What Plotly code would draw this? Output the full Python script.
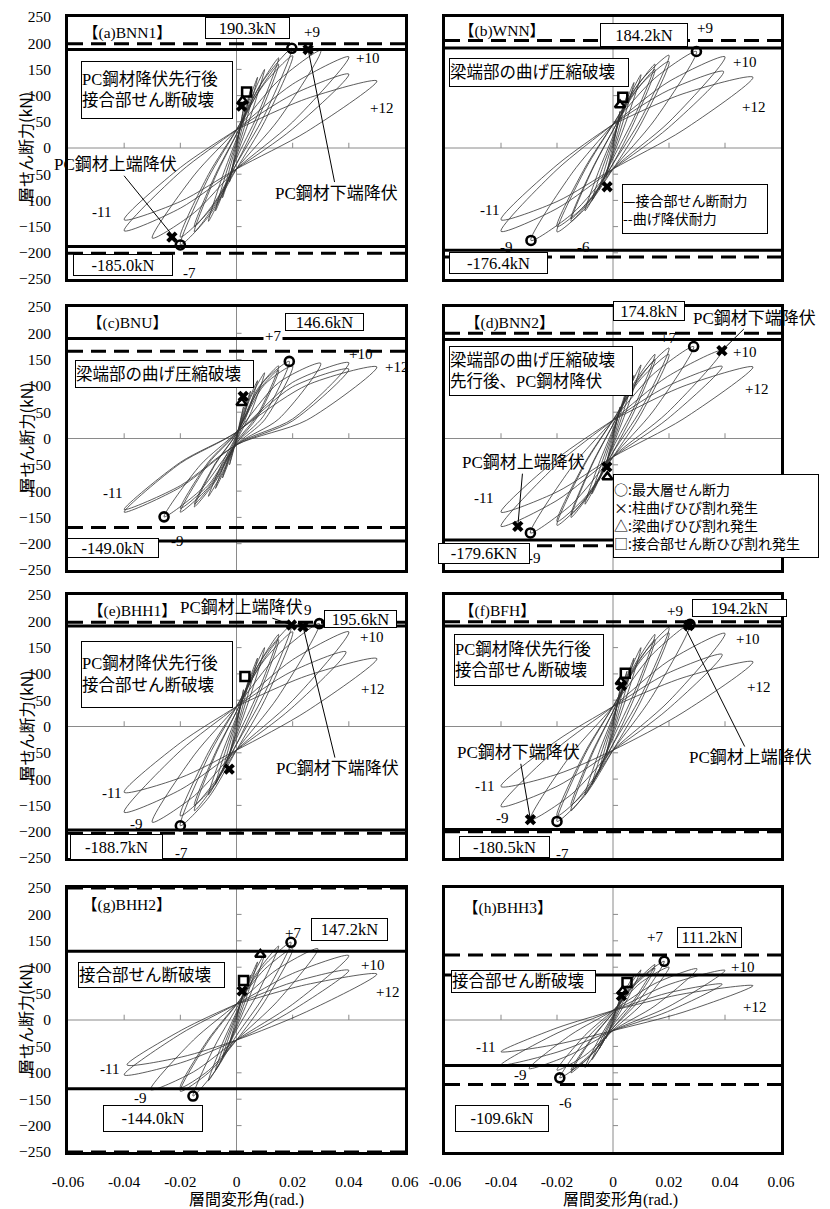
import plotly.graph_objects as go

SERIF = "Liberation Serif, Noto Sans CJK JP, serif"
GOTHIC = "Noto Sans CJK JP, Noto Sans, sans-serif"

# ---------------------------------------------------------------- axes
X_TICKS = [-0.06, -0.04, -0.02, 0, 0.02, 0.04, 0.06]
X_TICK_TEXT = ["-0.06", "-0.04", "-0.02", "0", "0.02", "0.04", "0.06"]
Y_TICKS = [250, 200, 150, 100, 50, 0, -50, -100, -150, -200, -250]
X_MINOR = [-0.04, -0.02, 0.02, 0.04]
Y_MINOR = [200, 150, 100, 50, -50, -100, -150, -200]

SPECIMENS = ["【(a)BNN1】", "【(b)WNN】", "【(c)BNU】", "【(d)BNN2】",
             "【(e)BHH1】", "【(f)BFH】", "【(g)BHH2】", "【(h)BHH3】"]

# ---------------------------------------------------------------- hysteresis
# each cycle: (+ peak drift, + peak shear, - peak drift, - peak shear)
CYCLES_A = [(0.0025, 75, -0.0025, -65), (0.005, 110, -0.005, -95),
            (0.0075, 135, -0.0075, -120), (0.01, 150, -0.01, -140),
            (0.015, 172, -0.015, -160), (0.015, 160, -0.015, -150),
            (0.0197, 190.3, -0.020, -185.0), (0.02, 176, -0.02, -170),
            (0.03, 186, -0.030, -172), (0.04, 174, -0.04, -158),
            (0.04, 141, -0.04, -137)]
CYCLES_B = [(0.0025, 70, -0.0025, -55), (0.005, 100, -0.005, -80),
            (0.0075, 125, -0.0075, -100), (0.01, 140, -0.01, -120),
            (0.015, 160, -0.015, -140), (0.015, 150, -0.015, -135),
            (0.02, 177, -0.02, -160), (0.02, 165, -0.02, -150),
            (0.0298, 184.2, -0.0293, -176.4), (0.04, 174, -0.04, -159),
            (0.0395, 146, -0.04, -137)]
CYCLES_C = [(0.0025, 60, -0.0025, -50), (0.005, 90, -0.005, -75),
            (0.0075, 110, -0.0075, -95), (0.01, 125, -0.01, -110),
            (0.015, 138, -0.015, -130), (0.015, 130, -0.015, -125),
            (0.0188, 146.6, -0.02, -140), (0.02, 138, -0.02, -133),
            (0.03, 143, -0.0258, -149.0), (0.04, 144, -0.04, -140),
            (0.04, 132, -0.04, -135)]
CYCLES_D = [(0.0025, 60, -0.0025, -50), (0.005, 95, -0.005, -80),
            (0.0075, 120, -0.0075, -105), (0.01, 140, -0.01, -125),
            (0.015, 160, -0.015, -150), (0.015, 150, -0.015, -145),
            (0.02, 172, -0.02, -165), (0.02, 160, -0.02, -158),
            (0.0288, 174.8, -0.0295, -179.6), (0.0389, 167, -0.04, -167),
            (0.039, 137, -0.04, -140)]
CYCLES_E = [(0.0025, 70, -0.0025, -55), (0.005, 100, -0.005, -85),
            (0.0075, 130, -0.0075, -110), (0.01, 150, -0.01, -130),
            (0.015, 175, -0.015, -160), (0.015, 165, -0.015, -150),
            (0.0196, 193, -0.020, -188.7), (0.02, 180, -0.02, -170),
            (0.0295, 195.6, -0.030, -182), (0.04, 180, -0.04, -163),
            (0.039, 142, -0.04, -125)]
CYCLES_F = [(0.0025, 70, -0.0025, -55), (0.005, 105, -0.005, -85),
            (0.0075, 130, -0.0075, -110), (0.01, 150, -0.01, -130),
            (0.015, 175, -0.015, -160), (0.015, 165, -0.015, -150),
            (0.02, 188, -0.020, -180.5), (0.02, 178, -0.02, -170),
            (0.0275, 194.2, -0.0295, -177), (0.04, 177, -0.04, -152),
            (0.039, 137, -0.04, -114)]
CYCLES_G = [(0.0025, 55, -0.0025, -45), (0.005, 85, -0.005, -70),
            (0.0075, 110, -0.0075, -95), (0.01, 125, -0.01, -115),
            (0.015, 140, -0.0155, -144.0), (0.0194, 147.2, -0.02, -135),
            (0.02, 135, -0.02, -128), (0.029, 135, -0.0306, -132),
            (0.04, 122, -0.04, -104), (0.04, 94, -0.039, -85)]
CYCLES_H = [(0.0025, 40, -0.0025, -35), (0.005, 65, -0.005, -55),
            (0.0075, 85, -0.0075, -75), (0.01, 95, -0.01, -90),
            (0.015, 105, -0.015, -100), (0.015, 98, -0.015, -95),
            (0.0183, 111.2, -0.019, -109.6), (0.02, 100, -0.02, -95),
            (0.03, 97, -0.03, -92), (0.04, 94, -0.04, -85),
            (0.039, 68, -0.04, -60)]
ALL_CYCLES = [CYCLES_A, CYCLES_B, CYCLES_C, CYCLES_D,
              CYCLES_E, CYCLES_F, CYCLES_G, CYCLES_H]

# last positive excursion (+12)
FINAL_DRIFT = [0.05, 0.05, 0.05, 0.05, 0.05, 0.05, 0.05, 0.05]
FINAL_SHEAR = [128, 135, 136, 136, 129, 123, 87, 65]

# shear remaining at zero drift in the pinched region
PINCH_UNLOAD = [35, 45, 12, 35, 38, 38, 30, 18]
PINCH_RELOAD = [40, 40, 12, 35, 45, 45, 38, 20]

# ---------------------------------------------------------------- strengths
SHEAR_CAP_POS = [188, 191, 190, 188, 191, 191, 130, 85]
SHEAR_CAP_NEG = [-188, -195, -195, -193, -197, -196, -130, -86]
FLEX_CAP_POS = [199, 205, 166, 200, 198, 199, 250, 123]
FLEX_CAP_NEG = [-201, -208, -169, -204, -203, -200, -250, -122]

# maximum story shear (drift, shear) in each direction
MAX_POS_DRIFT = [0.0197, 0.0298, 0.0188, 0.0288, 0.0295, 0.0275, 0.0194, 0.0183]
MAX_POS_SHEAR = [190.3, 184.2, 146.6, 174.8, 195.6, 194.2, 147.2, 111.2]
MAX_NEG_DRIFT = [-0.020, -0.0293, -0.0258, -0.0295, -0.020, -0.020, -0.0155, -0.019]
MAX_NEG_SHEAR = [-185.0, -176.4, -149.0, -179.6, -188.7, -180.5, -144.0, -109.6]
NEG_UNIT = ["kN", "kN", "kN", "KN", "kN", "kN", "kN", "kN"]

# crack / yield events
CROSS_PTS = [[(0.0255, 188), (0.0018, 80), (-0.023, -170)],
             [(-0.0021, -74)],
             [(0.0024, 80)],
             [(0.0389, 167), (-0.034, -167), (-0.0022, -54)],
             [(0.0196, 193), (0.0237, 190), (-0.0026, -81)],
             [(0.027, 192), (-0.0295, -177), (0.003, 78)],
             [(0.002, 55)],
             [(0.003, 46)]]
TRI_PTS = [[(0.0022, 90)], [(0.0025, 82)], [(0.0018, 68)], [(-0.002, -73)],
           [], [(0.0028, 85)], [(0.0085, 124)], [(0.0035, 55)]]
SQUARE_PTS = [[(0.0036, 107)], [(0.0035, 97)], [], [],
              [(0.003, 95)], [(0.0044, 101)], [(0.0025, 75)], [(0.005, 71)]]

# cycle numbers: (text, drift, shear)
CYCLE_LABELS = [
    [("+9", 0.0268, 221), ("+10", 0.0468, 172), ("+12", 0.0518, 76),
     ("-11", -0.0479, -122), ("-7", -0.0168, -239)],
    [("+9", 0.0329, 229), ("+10", 0.0471, 164), ("+12", 0.050, 78),
     ("-11", -0.044, -118), ("-9", -0.038, -189), ("-6", -0.0107, -189)],
    [("+7", 0.0129, 195), ("+10", 0.044, 160), ("+12", 0.057, 136),
     ("-11", -0.0443, -103), ("-9", -0.021, -195)],
    [("+7", 0.0196, 191), ("+10", 0.0471, 164), ("+12", 0.0514, 95),
     ("-11", -0.0464, -114), ("-9", -0.0282, -227)],
    [("9", 0.0256, 221), ("+10", 0.048, 170), ("+12", 0.0486, 72),
     ("-11", -0.0446, -126), ("-9", -0.0357, -185), ("-7", -0.0196, -241)],
    [("+9", 0.0221, 219), ("+10", 0.0479, 166), ("+12", 0.0518, 76),
     ("-11", -0.046, -113), ("-9", -0.0393, -174), ("-7", -0.0182, -243)],
    [("+7", 0.020, 165), ("+10", 0.0486, 104), ("+12", 0.0536, 53),
     ("-11", -0.0454, -93), ("-9", -0.0343, -148), ("-6", -0.0157, -195)],
    [("+7", 0.015, 157), ("+10", 0.0464, 100), ("+12", 0.0507, 25),
     ("-11", -0.0454, -51), ("-9", -0.033, -104), ("-6", -0.0168, -157)],
]

FAILURE_MODES = ["PC鋼材降伏先行後<br>接合部せん断破壊",
                 "梁端部の曲げ圧縮破壊",
                 "梁端部の曲げ圧縮破壊",
                 "梁端部の曲げ圧縮破壊<br>先行後、PC鋼材降伏",
                 "PC鋼材降伏先行後<br>接合部せん断破壊",
                 "PC鋼材降伏先行後<br>接合部せん断破壊",
                 "接合部せん断破壊",
                 "接合部せん断破壊"]

# PC tendon yielding call-outs: (text, text drift, text shear, point drift, point shear)
CALLOUTS = [
    [("PC鋼材上端降伏", -0.0432, -32, -0.022, -172),
     ("PC鋼材下端降伏", 0.0357, -86, 0.0255, 188)],
    [], [],
    [("PC鋼材下端降伏", 0.0507, 229, 0.0389, 167),
     ("PC鋼材上端降伏", -0.032, -46, -0.034, -167)],
    [("PC鋼材上端降伏", 0.0018, 227, 0.0196, 193),
     ("PC鋼材下端降伏", 0.036, -80, 0.0237, 190)],
    [("PC鋼材下端降伏", -0.0336, -50, -0.0295, -177),
     ("PC鋼材上端降伏", 0.049, -59, 0.0252, 194)],
    [], [],
]

# ---------------------------------------------------------------- placement (px / data)
FIG_W, FIG_H = 830, 1209
COL_PX = [(68, 405), (445, 781)]
ROW_PX = [(17, 279), (307, 570), (595, 858), (888, 1152)]

TITLE_POS = [(-0.0389, 219), (-0.0396, 223), (-0.0389, 219), (-0.0368, 219),
             (-0.037, 219), (-0.0414, 219), (-0.039, 218), (-0.0375, 213)]
POS_BOX = [(0.0039, 229, 83, 20), (0.011, 215, 86, 22), (0.0314, 221, 77, 16),
           (0.0129, 242, 70, 18), (0.0443, 204, 71, 16), (0.045, 225, 93, 16),
           (0.0404, 172, 75, 21), (0.0346, 157, 63, 19)]
NEG_BOX = [(-0.0404, -223, 98, 20), (-0.041, -220, 97, 20), (-0.044, -208, 90, 18),
           (-0.046, -219, 90, 19), (-0.0429, -230, 91, 24), (-0.0386, -230, 89, 20),
           (-0.0296, -186, 98, 25), (-0.0396, -187, 92, 25)]
MODE_BOX = [(-0.0282, 111, 150, 56), (-0.0264, 145, 178, 27), (-0.0257, 122, 177, 26),
            (-0.0257, 128, 182, 48), (-0.0282, 99, 150, 65), (-0.030, 126, 148, 50),
            (-0.0304, 85, 145, 24), (-0.0318, 72, 143, 21)]
BULGE_POS = [0.10, 0.10, 0.20, 0.10, 0.10, 0.10, 0.10, 0.12]
BULGE_NEG = [0.10, 0.10, 0.12, 0.10, 0.10, 0.10, 0.10, 0.10]


def loop_path(cycles, final, a_cap, b_cap, wp, wn):
    """Vertex path of the hysteresis; Plotly's spline draws the curves."""
    xs, ys = [0.0], [0.0]
    for xp, fp, xn, fn in cycles:
        rp = min(1.0, xp / 0.02)
        rn = min(1.0, -xn / 0.02)
        a, b = a_cap * rp, b_cap * rn
        x0, y0 = xs[-1], ys[-1]
        xs += [0.5 * (x0 + xp), xp, 0.5 * xp, 0.0]
        ys += [0.5 * (y0 + fp) - wp * fp * rp, fp, 0.5 * (fp + a) + wp * fp * rp, a]
        xs += [0.5 * xn, xn, 0.5 * xn, 0.0]
        ys += [0.5 * (a + fn) - wn * fn * rn, fn, 0.5 * (fn - b) + wn * fn * rn, -b]
    xp, fp = final
    x0, y0 = xs[-1], ys[-1]
    xs += [0.5 * (x0 + xp), xp, 0.5 * xp, 0.0]
    ys += [0.5 * (y0 + fp) - wp * fp, fp, 0.5 * (fp + a_cap) + wp * fp, a_cap]
    return xs, ys


fig = go.Figure()
layout = dict(template="none", width=FIG_W, height=FIG_H,
              margin=dict(l=0, r=0, t=0, b=0, pad=0),
              paper_bgcolor="white", plot_bgcolor="white", showlegend=False)
annotations = []

for i in range(8):
    row, col = divmod(i, 2)
    sfx = "" if i == 0 else str(i + 1)
    xa, ya = "x" + sfx, "y" + sfx
    x0p, x1p = COL_PX[col]
    y0p, y1p = ROW_PX[row]
    bottom = row == 3
    left = col == 0

    layout["xaxis" + sfx] = dict(
        domain=[x0p / FIG_W, x1p / FIG_W], anchor=ya, range=[-0.06, 0.06],
        tickvals=X_TICKS, ticktext=X_TICK_TEXT, showticklabels=bottom,
        ticks="outside", ticklen=13, tickcolor="rgba(0,0,0,0)",
        tickfont=dict(family=SERIF, size=15.5, color="black"),
        showgrid=False, zeroline=False, showline=True, mirror=True,
        linecolor="black", linewidth=3, automargin=False, fixedrange=True)
    layout["yaxis" + sfx] = dict(
        domain=[1 - y1p / FIG_H, 1 - y0p / FIG_H], anchor=xa, range=[-250, 250],
        tickvals=Y_TICKS, showticklabels=left,
        ticks="outside", ticklen=11, tickcolor="rgba(0,0,0,0)",
        tickfont=dict(family=SERIF, size=15.5, color="black"),
        showgrid=False, zeroline=False, showline=True, mirror=True,
        linecolor="black", linewidth=3, automargin=False, fixedrange=True)

    # zero axes with small ticks
    fig.add_trace(go.Scatter(x=[-0.06, 0.06, None, 0, 0], y=[0, 0, None, -250, 250],
                             mode="lines", line=dict(color="#8a8a8a", width=1),
                             xaxis=xa, yaxis=ya, hoverinfo="skip"))
    tx, ty = [], []
    for v in Y_MINOR:
        tx += [0, 0.0018, None]
        ty += [v, v, None]
    for u in X_MINOR:
        tx += [u, u, None]
        ty += [0, 10, None]
    fig.add_trace(go.Scatter(x=tx, y=ty, mode="lines",
                             line=dict(color="#8a8a8a", width=1),
                             xaxis=xa, yaxis=ya, hoverinfo="skip"))

    # hysteresis loops
    hx, hy = loop_path(ALL_CYCLES[i], (FINAL_DRIFT[i], FINAL_SHEAR[i]),
                       PINCH_UNLOAD[i], PINCH_RELOAD[i], BULGE_POS[i], BULGE_NEG[i])
    fig.add_trace(go.Scatter(x=hx, y=hy, mode="lines",
                             line=dict(color="#333333", width=0.8, shape="spline", smoothing=0.8),
                             xaxis=xa, yaxis=ya, hoverinfo="skip"))

    # joint shear strength (solid) and flexural yield strength (dashed)
    fig.add_trace(go.Scatter(x=[-0.06, 0.06, None, -0.06, 0.06],
                             y=[SHEAR_CAP_POS[i], SHEAR_CAP_POS[i], None,
                                SHEAR_CAP_NEG[i], SHEAR_CAP_NEG[i]],
                             mode="lines", line=dict(color="black", width=3),
                             xaxis=xa, yaxis=ya, hoverinfo="skip"))
    fig.add_trace(go.Scatter(x=[-0.06, 0.06, None, -0.06, 0.06],
                             y=[FLEX_CAP_POS[i], FLEX_CAP_POS[i], None,
                                FLEX_CAP_NEG[i], FLEX_CAP_NEG[i]],
                             mode="lines", line=dict(color="black", width=3, dash="15px,8px"),
                             xaxis=xa, yaxis=ya, hoverinfo="skip"))

    # event markers
    for pts, sym, size, lw in [(SQUARE_PTS[i], "square-open", 9, 2.5),
                               (TRI_PTS[i], "triangle-up-open", 9, 2.5),
                               (CROSS_PTS[i], "x", 10, 0)]:
        if pts:
            fig.add_trace(go.Scatter(x=[p[0] for p in pts], y=[p[1] for p in pts],
                                     mode="markers",
                                     marker=dict(symbol=sym, size=size, color="black",
                                                 line=dict(color="black", width=lw)),
                                     xaxis=xa, yaxis=ya, hoverinfo="skip"))
    fig.add_trace(go.Scatter(x=[MAX_POS_DRIFT[i], MAX_NEG_DRIFT[i]],
                             y=[MAX_POS_SHEAR[i], MAX_NEG_SHEAR[i]], mode="markers",
                             marker=dict(symbol="circle-open", size=9, color="black",
                                         line=dict(color="black", width=2.6)),
                             xaxis=xa, yaxis=ya, hoverinfo="skip"))

    # texts
    annotations.append(dict(xref=xa, yref=ya, x=TITLE_POS[i][0], y=TITLE_POS[i][1],
                            text=SPECIMENS[i], showarrow=False,
                            font=dict(family=SERIF, size=15.5, color="black")))
    for text, x, y in CYCLE_LABELS[i]:
        annotations.append(dict(xref=xa, yref=ya, x=x, y=y, text=text, showarrow=False,
                                bgcolor="white" if i == 2 and text == "+7" else None,
                                font=dict(family=SERIF, size=15, color="black")))
    bx, by, bw, bh = POS_BOX[i]
    annotations.append(dict(xref=xa, yref=ya, x=bx, y=by, width=bw, height=bh,
                            text=f"{MAX_POS_SHEAR[i]:.1f}kN", showarrow=False,
                            bgcolor="white", bordercolor="black", borderwidth=1, borderpad=0,
                            font=dict(family=SERIF, size=16.5, color="black")))
    bx, by, bw, bh = NEG_BOX[i]
    annotations.append(dict(xref=xa, yref=ya, x=bx, y=by, width=bw, height=bh,
                            text=f"{MAX_NEG_SHEAR[i]:.1f}{NEG_UNIT[i]}", showarrow=False,
                            bgcolor="white", bordercolor="black", borderwidth=1, borderpad=0,
                            font=dict(family=SERIF, size=16.5, color="black")))
    bx, by, bw, bh = MODE_BOX[i]
    annotations.append(dict(xref=xa, yref=ya, x=bx, y=by, width=bw, height=bh,
                            text=FAILURE_MODES[i], showarrow=False, align="left",
                            bgcolor="white", bordercolor="black", borderwidth=1, borderpad=0,
                            font=dict(family=SERIF, size=16.5, color="black")))
    for text, tx_, ty_, px_, py_ in CALLOUTS[i]:
        annotations.append(dict(xref=xa, yref=ya, axref=xa, ayref=ya,
                                x=px_, y=py_, ax=tx_, ay=ty_, text=text,
                                showarrow=True, arrowhead=0, arrowwidth=1,
                                arrowcolor="black", standoff=0,
                                font=dict(family=SERIF, size=17, color="black")))

    if left:
        annotations.append(dict(xref="paper", yref="paper", x=25 / FIG_W,
                                y=1 - (y0p + y1p) / 2 / FIG_H, text="層せん断力(kN)",
                                textangle=-90, showarrow=False,
                                xanchor="center", yanchor="middle",
                                font=dict(family=GOTHIC, size=16, color="black")))

# legends drawn as boxed text
annotations.append(dict(xref="x2", yref="y2", x=0.0293, y=-116, width=144, height=48,
                        text="—接合部せん断耐力<br>--曲げ降伏耐力", showarrow=False,
                        align="left", bgcolor="white", bordercolor="black",
                        borderwidth=1, borderpad=0,
                        font=dict(family=GOTHIC, size=14, color="black")))
annotations.append(dict(xref="x4", yref="y4", x=0.0368, y=-147, width=204, height=82,
                        text="○:最大層せん断力<br>×:柱曲げひび割れ発生<br>"
                             "△:梁曲げひび割れ発生<br>□:接合部せん断ひび割れ発生",
                        showarrow=False, align="left", bgcolor="white",
                        bordercolor="black", borderwidth=1, borderpad=0,
                        font=dict(family=GOTHIC, size=14, color="black")))

# x-axis titles under the bottom row
for cx in (246, 620):
    annotations.append(dict(xref="paper", yref="paper", x=cx / FIG_W,
                            y=1 - 1200 / FIG_H, text="層間変形角(rad.)", showarrow=False,
                            xanchor="center", yanchor="middle",
                            font=dict(family=SERIF, size=16, color="black")))

layout["annotations"] = annotations
fig.update_layout(**layout)
fig.write_html("out.html")
